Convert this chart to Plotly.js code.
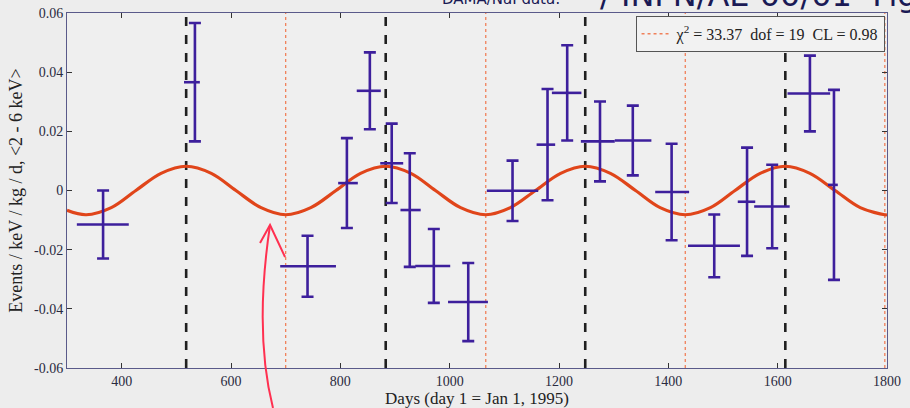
<!DOCTYPE html>
<html>
<head>
<meta charset="utf-8">
<script src="https://cdn.plot.ly/plotly-3.0.1.min.js"></script>
<style>html,body{margin:0;padding:0;background:#ededed;}#chart{width:910px;height:408px;}</style>
</head>
<body>
<div id="chart"></div>
<script>
// ---- data ----
const days     = [366, 534, 740, 812, 854, 894, 927, 971, 1034, 1115, 1179, 1215, 1275, 1335, 1406, 1484, 1544, 1590, 1659, 1703];
const dayMinus = [48, 20, 50, 16, 24, 21, 17, 34, 37, 47, 20, 28, 35, 33, 30, 48, 17, 33, 41, 11];
const dayPlus  = [47, 9, 52, 20, 20, 21, 20, 30, 36, 47, 14, 26, 27, 34, 32, 47, 15, 32, 37, 7];
const rate     = [-0.0115, 0.0366, -0.0256, 0.0025, 0.0337, 0.0092, -0.0066, -0.0255, -0.0377, -0.0001, 0.0155, 0.0330, 0.0166, 0.0169, -0.0005, -0.0187, -0.0038, -0.0054, 0.0328, 0.0019];
const rateErr  = [0.0115, 0.0200, 0.0103, 0.0152, 0.0130, 0.0134, 0.0192, 0.0125, 0.0132, 0.0102, 0.0188, 0.0161, 0.0135, 0.0118, 0.0163, 0.0106, 0.0183, 0.0141, 0.0128, 0.0321];

// fitted modulation curve, read at peaks / troughs / zero crossings / eighth periods
const curveDays = [300, 335, 381, 426, 472, 518, 564, 609, 655, 700, 746, 792, 837, 883, 929, 974, 1020, 1066, 1111, 1157, 1203, 1248, 1294, 1340, 1385, 1431, 1477, 1522, 1568, 1614, 1659, 1705, 1751, 1796, 1800];
const curveRate = [-0.0067, -0.0082, -0.0058, 0, 0.0058, 0.0082, 0.0058, 0, -0.0058, -0.0082, -0.0058, 0, 0.0058, 0.0082, 0.0058, 0, -0.0058, -0.0082, -0.0058, 0, 0.0058, 0.0082, 0.0058, 0, -0.0058, -0.0082, -0.0058, 0, 0.0058, 0.0082, 0.0058, 0, -0.0058, -0.0082, -0.0082];

const peakDays   = [518, 883, 1248, 1614];   // black dashed lines
const troughDays = [700, 1066, 1431, 1796];  // red dotted lines

const xTicks = [400, 600, 800, 1000, 1200, 1400, 1600, 1800];
const yTicks = [-0.06, -0.04, -0.02, 0, 0.02, 0.04, 0.06];
const yTickText = ["-0.06", "-0.04", "-0.02", "0", "0.02", "0.04", "0.06"];

const legendText = "χ<sup>2</sup> = 33.37  dof = 19  CL = 0.98";
const noteSmall = "DAMA/NaI data:";
const noteLarge = "/ INFN/AE 00/01  Fig";

// ---- build traces ----
function vlines(arr) {
  const xs = [], ys = [];
  arr.forEach(d => { xs.push(d, d, null); ys.push(-0.06, 0.06, null); });
  return {xs, ys};
}
const pk = vlines(peakDays), tr = vlines(troughDays);

const serif = "Liberation Serif, Times New Roman, serif";
const dataColor = "#3d1f9c";

const traces = [
  {x: tr.xs, y: tr.ys, mode: "lines", name: legendText, showlegend: true,
   line: {color: "#f0805a", width: 1.3, dash: "dot"}, hoverinfo: "skip"},
  {x: pk.xs, y: pk.ys, mode: "lines", showlegend: false,
   line: {color: "#202020", width: 2.6, dash: "dash"}, hoverinfo: "skip"},
  {x: curveDays, y: curveRate, mode: "lines", showlegend: false,
   line: {color: "#e0451a", width: 3.2, shape: "spline", smoothing: 1}},
  {x: days, y: rate, mode: "markers", showlegend: false,
   marker: {size: 1, color: dataColor},
   error_y: {type: "data", array: rateErr, visible: true, color: dataColor, thickness: 2.6, width: 6},
   error_x: {type: "data", symmetric: false, array: dayPlus, arrayminus: dayMinus, visible: true, color: dataColor, thickness: 2.6, width: 0}}
];

const layout = {
  width: 910, height: 408,
  margin: {l: 67, r: 23, t: 13, b: 40},
  paper_bgcolor: "#ededed", plot_bgcolor: "#efefef",
  font: {family: serif, color: "#2a2a40", size: 14},
  showlegend: true,
  legend: {x: 0.997, y: 0.992, xanchor: "right", yanchor: "top",
           bgcolor: "#f2f2f2", bordercolor: "#555555", borderwidth: 1,
           tracegroupgap: 0, itemwidth: 30,
           font: {family: serif, size: 16, color: "#222"}},
  xaxis: {range: [300, 1800], tickvals: xTicks, ticktext: xTicks.map(String),
          ticks: "inside", ticklen: 5, tickcolor: "#333", mirror: "ticks",
          showline: true, linecolor: "#5a5a8a", linewidth: 1, showgrid: false, zeroline: false,
          tickfont: {family: serif, size: 14, color: "#2a2a40"},
          title: {text: "Days (day 1 = Jan 1, 1995)", font: {family: serif, size: 17, color: "#222"}, standoff: 1}},
  yaxis: {range: [-0.06, 0.06], tickvals: yTicks, ticktext: yTickText,
          ticks: "inside", ticklen: 5, tickcolor: "#333", mirror: "ticks",
          showline: true, linecolor: "#5a5a8a", linewidth: 1, showgrid: false, zeroline: false,
          tickfont: {family: serif, size: 14, color: "#2a2a40"},
          title: {text: "Events / keV / kg / d, <2 - 6 keV>", font: {family: serif, size: 18, color: "#222"}, standoff: 6}},
  shapes: [
    {type: "path", xref: "paper", yref: "paper",
     path: "M 0.2512,-0.1127 Q 0.228,0.10 0.2476,0.4028",
     line: {color: "#ff3050", width: 2}},
    {type: "path", xref: "paper", yref: "paper",
     path: "M 0.2354,0.3521 L 0.2476,0.4028 L 0.2659,0.3127",
     line: {color: "#ff3050", width: 2}}
  ],
  annotations: [
    {text: noteSmall, xref: "paper", yref: "paper", x: 0.4549, y: 1.008,
     xanchor: "left", yanchor: "bottom", showarrow: false,
     font: {family: "DejaVu Sans, sans-serif", size: 15, color: "#1a1a55"}},
    {text: noteLarge, xref: "paper", yref: "paper", x: 0.6476, y: 0.9915,
     xanchor: "left", yanchor: "bottom", showarrow: false,
     font: {family: "DejaVu Sans, sans-serif", size: 32, color: "#1a1a55"}}
  ]
};

Plotly.newPlot("chart", traces, layout, {displayModeBar: false, staticPlot: true});
</script>
</body>
</html>
